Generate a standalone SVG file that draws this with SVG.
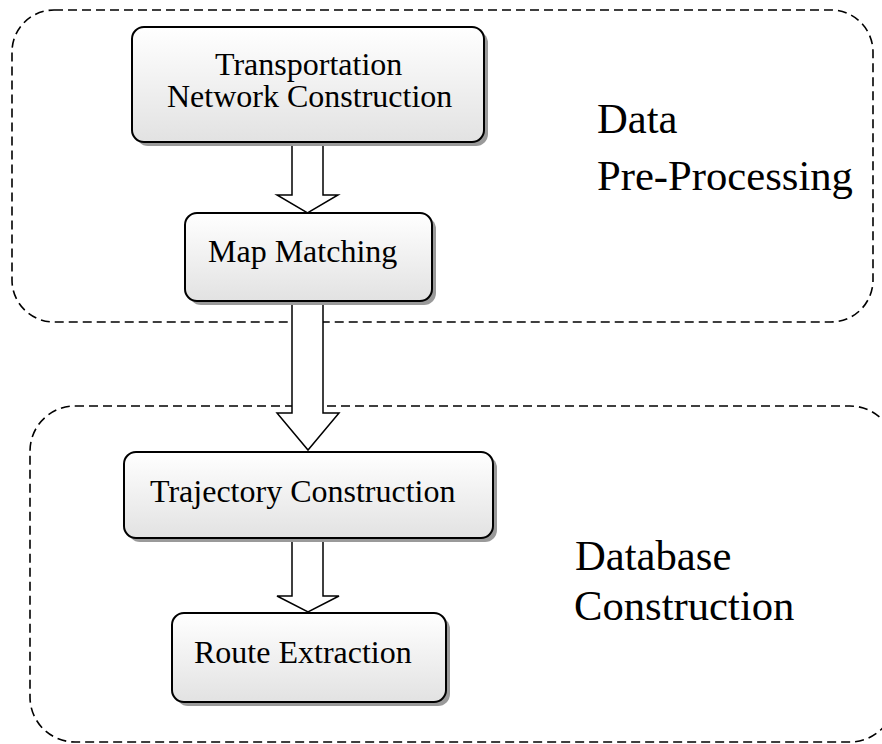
<svg xmlns="http://www.w3.org/2000/svg" width="882" height="744" viewBox="0 0 882 744">
<defs>
<linearGradient id="boxGrad" x1="0" y1="0" x2="0" y2="1">
<stop offset="0" stop-color="#ffffff"/>
<stop offset="1" stop-color="#e2e2e2"/>
</linearGradient>
</defs>
<style>
.region{fill:none;stroke:#000;stroke-width:1.6;stroke-dasharray:9 5}
.shadow{fill:#9a9a9a}
.box{fill:url(#boxGrad);stroke:#000;stroke-width:2}
.arrow{fill:#fff;stroke:#000;stroke-width:1.5;stroke-linejoin:miter}
.t{font-family:"Liberation Serif","Times New Roman",serif;font-size:32px;fill:#000}
.lbl{font-family:"Liberation Serif","Times New Roman",serif;font-size:42.67px;fill:#000}
</style>
<rect width="882" height="744" fill="#fff"/>
<g id="region-preprocessing">
<rect class="region" x="12" y="10" width="861" height="312" rx="42" ry="42"/>
<text class="lbl" x="597" y="133">Data</text>
<text class="lbl" x="597" y="190">Pre-Processing</text>
</g>
<g id="region-database">
<rect class="region" x="30" y="406" width="865" height="336" rx="45" ry="45"/>
<text class="lbl" x="575" y="570">Database</text>
<text class="lbl" x="574" y="620">Construction</text>
</g>
<g id="connectors">
<path class="arrow" d="M292,142 V195 H277 L307.5,213 L338,195 H323 V142"/>
<path class="arrow" d="M292,301 V413 H277 L308,450 L339,413 H323 V301"/>
<path class="arrow" d="M292,538 V596 H277 L308,612 L339,596 H323 V538"/>
</g>
<g id="node-transportation">
<rect class="shadow" x="136" y="31" width="352" height="115" rx="12"/>
<rect class="box" x="132" y="27" width="352" height="115" rx="12"/>
<text class="t" x="215" y="75">Transportation</text>
<text class="t" x="167" y="107">Network Construction</text>
</g>
<g id="node-mapmatching">
<rect class="shadow" x="189" y="217" width="247" height="88" rx="12"/>
<rect class="box" x="185" y="213" width="247" height="88" rx="12"/>
<text class="t" x="208" y="262">Map Matching</text>
</g>
<g id="node-trajectory">
<rect class="shadow" x="128" y="456" width="369" height="86" rx="12"/>
<rect class="box" x="124" y="452" width="369" height="86" rx="12"/>
<text class="t" x="150" y="502">Trajectory Construction</text>
</g>
<g id="node-route">
<rect class="shadow" x="176" y="617" width="274" height="89" rx="12"/>
<rect class="box" x="172" y="613" width="274" height="89" rx="12"/>
<text class="t" x="194" y="663">Route Extraction</text>
</g>
</svg>
